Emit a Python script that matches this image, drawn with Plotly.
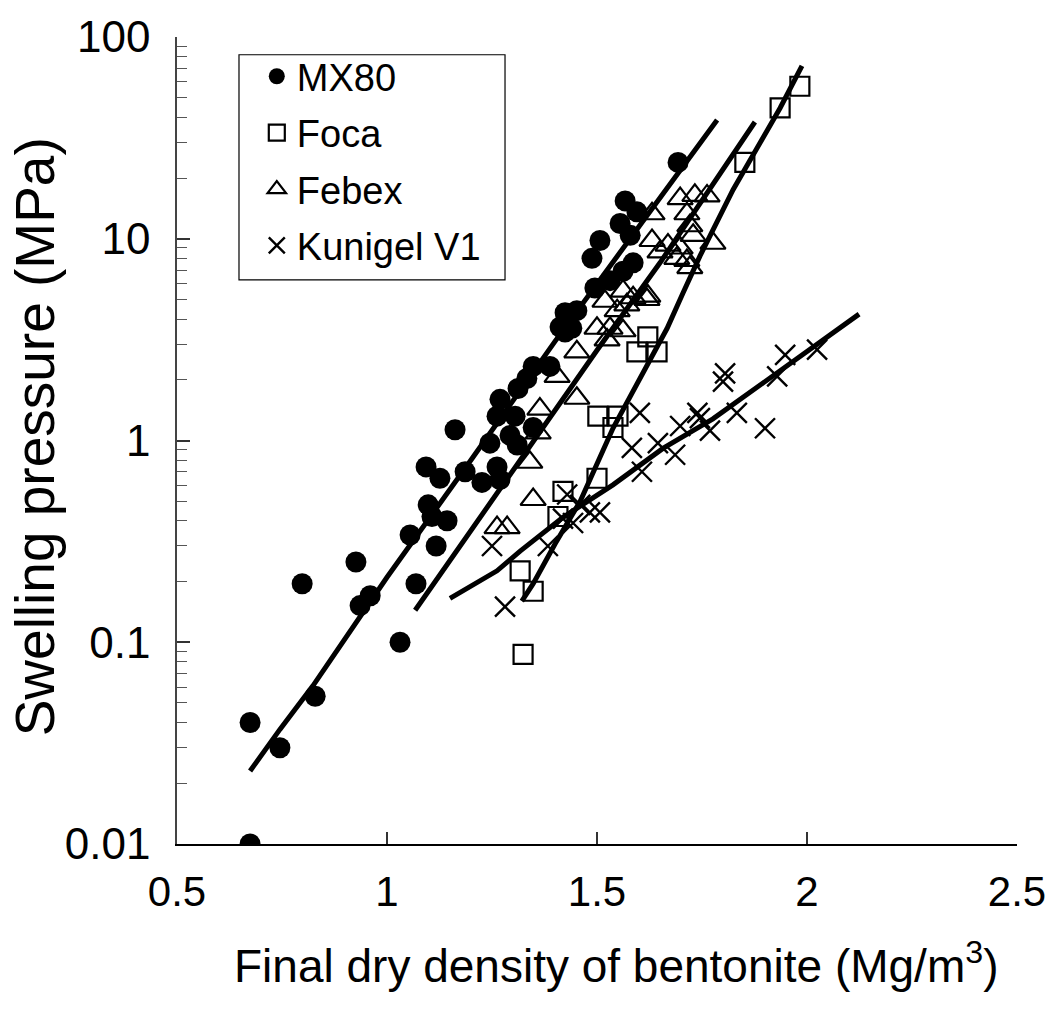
import plotly.graph_objects as go

# ---- data ----
mx80_x = [0.674, 0.674, 0.745, 0.829, 0.798, 0.926, 0.936, 0.960, 1.031, 1.055, 1.069, 1.093,
          1.098, 1.107, 1.117, 1.126, 1.143, 1.162, 1.186, 1.226, 1.245, 1.262, 1.269, 1.262,
          1.269, 1.305, 1.293, 1.310, 1.348, 1.312, 1.333, 1.348, 1.388, 1.412, 1.424, 1.452,
          1.440, 1.495, 1.531, 1.562, 1.586, 1.488, 1.507, 1.555, 1.579, 1.567, 1.595, 1.693, 1.424]
mx80_y = [0.010, 0.040, 0.030, 0.054, 0.195, 0.25, 0.152, 0.17, 0.10, 0.34, 0.195, 0.74,
          0.48, 0.42, 0.30, 0.65, 0.40, 1.13, 0.70, 0.62, 0.97, 0.74, 0.64, 1.32,
          1.60, 1.32, 1.06, 0.95, 1.16, 1.81, 2.03, 2.33, 2.33, 3.65, 4.3, 4.4,
          3.6, 5.7, 6.2, 6.9, 7.6, 8.0, 9.8, 11.9, 10.4, 15.4, 13.6, 23.9, 3.45]

foca_x = [1.324, 1.348, 1.317, 1.407, 1.419, 1.500, 1.502, 1.550, 1.538, 1.595, 1.643, 1.621,
          1.852, 1.936, 1.983]
foca_y = [0.087, 0.179, 0.226, 0.42, 0.56, 0.65, 1.32, 1.32, 1.16, 2.75, 2.75, 3.26,
          23.9, 44.5, 57.0]

febex_x = [1.262, 1.286, 1.348, 1.340, 1.360, 1.364, 1.452, 1.405, 1.452, 1.524, 1.500, 1.531,
           1.562, 1.519, 1.548, 1.571, 1.562, 1.586, 1.619, 1.621, 1.631, 1.631, 1.650, 1.669,
           1.690, 1.698, 1.714, 1.721, 1.729, 1.721, 1.714, 1.698, 1.733, 1.762, 1.776]
febex_y = [0.37, 0.37, 0.51, 0.78, 1.09, 1.43, 1.62, 2.08, 2.75, 3.15, 3.6, 3.6,
           3.5, 4.9, 4.4, 4.7, 5.5, 5.1, 5.0, 5.2, 9.8, 13.3, 8.6, 9.3,
           8.0, 9.0, 7.8, 7.2, 10.4, 11.6, 13.3, 15.8, 16.4, 16.3, 9.5]

kuni_x = [1.250, 1.281, 1.383, 1.419, 1.429, 1.443, 1.460, 1.483, 1.507, 1.583, 1.602, 1.607,
          1.645, 1.686, 1.698, 1.745, 1.769, 1.739, 1.805, 1.800, 1.833, 1.900, 1.929, 1.948, 2.024]
kuni_y = [0.30, 0.15, 0.30, 0.41, 0.54, 0.39, 0.48, 0.44, 0.44, 0.92, 1.37, 0.70,
          0.97, 0.85, 1.18, 1.29, 1.12, 1.37, 2.15, 1.96, 1.37, 1.15, 2.08, 2.66, 2.82]

# fitted curves
mx80_fit_x = [0.674, 0.745, 0.824, 0.895, 0.960, 1.000, 1.200, 1.400, 1.600, 1.786]
mx80_fit_y = [0.023, 0.037, 0.061, 0.100, 0.156, 0.21, 0.80, 3.1, 11.5, 38.8]

febex_fit_x = [1.067, 1.200, 1.350, 1.500, 1.650, 1.780, 1.876]
febex_fit_y = [0.144, 0.36, 1.0, 2.8, 7.6, 19.0, 37.9]

foca_fit_x = [1.321, 1.348, 1.400, 1.460, 1.538, 1.602, 1.667, 1.705, 1.745, 1.824, 1.881, 1.936, 1.988]
foca_fit_y = [0.160, 0.195, 0.307, 0.50, 1.15, 2.01, 3.6, 5.4, 8.2, 17.5, 28.5, 44.5, 72.0]

kuni_fit_x = [1.150, 1.198, 1.262, 1.317, 1.419, 1.538, 1.657, 1.776, 1.895, 1.983, 2.124]
kuni_fit_y = [0.165, 0.189, 0.226, 0.283, 0.416, 0.603, 0.914, 1.28, 1.92, 2.61, 4.23]

x_ticks = [0.5, 1, 1.5, 2, 2.5]
x_ticklabels = ["0.5", "1", "1.5", "2", "2.5"]
y_ticks = [0.01, 0.1, 1, 10, 100]
y_ticklabels = ["0.01", "0.1", "1", "10", "100"]

FONT = "Arial, Liberation Sans, sans-serif"

fig = go.Figure()

fig.add_trace(go.Scatter(x=mx80_x, y=mx80_y, mode="markers", name="MX80", legendgroup="a",
                         marker=dict(symbol="circle", size=21, color="black")))
fig.add_trace(go.Scatter(x=foca_x, y=foca_y, mode="markers", name="Foca", legendgroup="b",
                         marker=dict(symbol="square-open", size=19, color="black",
                                     line=dict(width=2.2, color="black"))))
fig.add_trace(go.Scatter(x=febex_x, y=febex_y, mode="markers", name="Febex", legendgroup="c",
                         marker=dict(symbol="triangle-up-open", size=22, color="black",
                                     line=dict(width=2.2, color="black"))))
fig.add_trace(go.Scatter(x=kuni_x, y=kuni_y, mode="markers", name="Kunigel V1", legendgroup="d",
                         marker=dict(symbol="x-thin", size=20, color="black",
                                     line=dict(width=2.4, color="black"))))

for fx, fy in [(mx80_fit_x, mx80_fit_y), (febex_fit_x, febex_fit_y),
               (foca_fit_x, foca_fit_y), (kuni_fit_x, kuni_fit_y)]:
    fig.add_trace(go.Scatter(x=fx, y=fy, mode="lines", showlegend=False,
                             line=dict(color="black", width=5)))

minor_vals = [m * 10 ** e for e in range(-2, 2) for m in range(2, 10)]

# legend frame
fig.add_shape(type="rect", xref="paper", yref="paper",
              x0=0.0738, x1=0.3905, y0=0.699, y1=0.978,
              line=dict(color="black", width=1.2), fillcolor="rgba(0,0,0,0)", layer="above")

# axis titles
fig.add_annotation(text="Final dry density of bentonite (Mg/m<sup>3</sup>)",
                   xref="paper", yref="paper", x=0.5226, y=-0.148,
                   xanchor="center", yanchor="middle", showarrow=False,
                   font=dict(family=FONT, size=46, color="black"))
fig.add_annotation(text="Swelling pressure (MPa)",
                   xref="paper", yref="paper", x=-0.168, y=0.505,
                   xanchor="center", yanchor="middle", showarrow=False, textangle=-90,
                   font=dict(family=FONT, size=55, color="black"))

fig.update_layout(
    width=1058, height=1016,
    margin=dict(l=177, r=41, t=26, b=172),
    paper_bgcolor="white", plot_bgcolor="white",
    font=dict(family=FONT, size=36, color="black"),
    showlegend=True,
    legend=dict(x=0.095, y=0.990, xanchor="left", yanchor="top",
                borderwidth=0, bgcolor="rgba(0,0,0,0)",
                font=dict(family=FONT, size=38, color="black"),
                itemsizing="trace", tracegroupgap=4),
    xaxis=dict(range=[0.5, 2.5], tickvals=x_ticks, ticktext=x_ticklabels,
               ticks="inside", ticklen=12, tickwidth=1.5, tickcolor="#333",
               showline=True, linecolor="black", linewidth=1.5,
               showgrid=False, zeroline=False, ticklabelstandoff=10,
               tickfont=dict(family=FONT, size=42)),
    yaxis=dict(type="log", range=[-2, 2], tickvals=y_ticks, ticktext=y_ticklabels,
               ticks="inside", ticklen=13, tickwidth=1.5, tickcolor="#333",
               minor=dict(tickvals=minor_vals, ticks="inside", ticklen=10,
                          tickwidth=1.2, tickcolor="#555", showgrid=False),
               showline=True, linecolor="#444", linewidth=1.5,
               showgrid=False, zeroline=False, ticklabelstandoff=16,
               tickfont=dict(family=FONT, size=44)),
)

fig.write_html("out.html", config={"displayModeBar": False},
               post_script="document.body.style.margin='0px';document.body.style.padding='0px';")
